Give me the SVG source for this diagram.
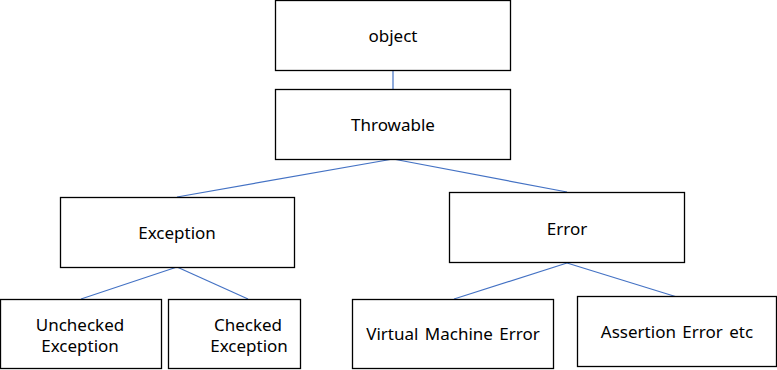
<svg xmlns="http://www.w3.org/2000/svg" width="777" height="370" viewBox="0 0 777 370">
<style>
rect{fill:#fff;stroke:#000;stroke-width:1.3}
text{font-family:"Noto Sans","Open Sans",sans-serif;font-size:17px;fill:#000;text-anchor:middle;word-spacing:2px}
.c line{stroke:#4472C4;stroke-width:1.2}
</style>
<rect x="0" y="0" width="777" height="370" style="stroke:none"/>
<g class="c" id="connectors">
<line x1="393" y1="70" x2="393" y2="89"/>
<line x1="393" y1="159" x2="177" y2="197"/>
<line x1="393" y1="159" x2="567" y2="192"/>
<line x1="177" y1="267" x2="81" y2="299"/>
<line x1="177" y1="267" x2="248" y2="299"/>
<line x1="567" y1="263" x2="454" y2="299"/>
<line x1="567" y1="263" x2="677" y2="297"/>
</g>
<g id="object"><rect x="275.5" y="0.5" width="235" height="70"/><text x="393" y="42">object</text></g>
<g id="throwable"><rect x="275.5" y="89.5" width="235" height="70"/><text x="393" y="131">Throwable</text></g>
<g id="exception"><rect x="60.5" y="197.5" width="234" height="70"/><text x="177" y="239">Exception</text></g>
<g id="error"><rect x="449.5" y="192.5" width="235" height="70"/><text x="567" y="235">Error</text></g>
<g id="unchecked"><rect x="0.5" y="299.5" width="161" height="69"/><text x="80" y="331">Unchecked</text><text x="80" y="352">Exception</text></g>
<g id="checked"><rect x="168.5" y="299.5" width="132" height="69"/><text x="248" y="331">Checked</text><text x="249" y="352">Exception</text></g>
<g id="vme"><rect x="352.5" y="299.5" width="201" height="69"/><text x="453" y="340">Virtual Machine Error</text></g>
<g id="assertion"><rect x="577.5" y="296.5" width="199" height="70"/><text x="677" y="338">Assertion Error etc</text></g>
</svg>
